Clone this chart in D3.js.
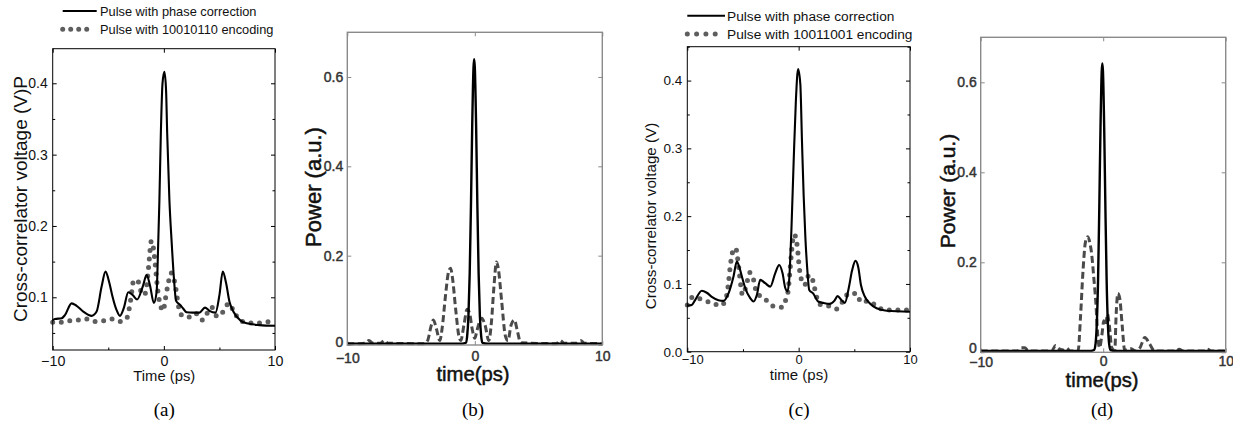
<!DOCTYPE html>
<html>
<head>
<meta charset="utf-8">
<script src="https://cdn.jsdelivr.net/npm/d3@7"></script>
<style>
body { margin: 0; background: #fff; }
svg { display: block; }
</style>
</head>
<body>
<svg id="svg"></svg>
<script>
var width = 1233, height = 428;
var svg = d3.select("#svg")
	.attr("width", width)
	.attr("height", height);

// shared time axis
var timeTicks = [-10, 0, 10];
var timeMinor = [-5, 5];

// tick values of the voltage / power axes
var voltTicksA = [0.1, 0.2, 0.3, 0.4];
var voltMinorA = [0.05, 0.15, 0.25, 0.35];
var voltTicksC = [0, 0.1, 0.2, 0.3, 0.4];
var voltMinorC = [0.05, 0.15, 0.25, 0.35, 0.45];
var powerTicks = [0, 0.2, 0.4, 0.6];

var legendA = ["Pulse with phase correction", "Pulse with 10010110 encoding"];
var legendC = ["Pulse with phase correction", "Pulse with 10011001 encoding"];

// (a) measured cross-correlation, [time ps, voltage V]
var aCorrected = [[-10,0.068],[-9.8,0.0696],[-9.2,0.0705],[-8.9,0.075],[-8.3,0.0915],[-7.85,0.088],[-7.25,0.08],[-6.5,0.074],[-6.05,0.08],[-5.6,0.115],[-5.25,0.136],[-4.9,0.12],[-4.65,0.103],[-4.25,0.082],[-3.95,0.074],[-3.6,0.085],[-3.2,0.107],[-2.8,0.103],[-2.4,0.097],[-1.9,0.115],[-1.55,0.131],[-1.25,0.117],[-0.9,0.092],[-0.65,0.108],[-0.5,0.18],[-0.4,0.236],[-0.27,0.33],[-0.12,0.4],[0.05,0.416],[0.2,0.39],[0.3,0.33],[0.5,0.236],[0.7,0.178],[0.9,0.128],[1.1,0.095],[1.45,0.0895],[1.75,0.084],[2.05,0.079],[2.6,0.0785],[3.2,0.0785],[3.7,0.0855],[4.1,0.081],[4.65,0.0785],[5.0,0.103],[5.3,0.136],[5.6,0.12],[5.9,0.094],[6.25,0.08],[6.85,0.068],[7.45,0.0635],[8.6,0.061],[10,0.06]];
var aEncoded = [[-10,0.065],[-9.2,0.065],[-8.45,0.067],[-7.7,0.068],[-6.95,0.0696],[-6.2,0.066],[-5.45,0.067],[-4.65,0.0696],[-3.9,0.066],[-3.3,0.072],[-3.0,0.095],[-2.7,0.124],[-2.35,0.123],[-2.0,0.106],[-1.75,0.103],[-1.55,0.116],[-1.37,0.143],[-1.12,0.179],[-0.95,0.17],[-0.8,0.15],[-0.65,0.125],[-0.5,0.104],[-0.33,0.09],[-0.05,0.081],[0.1,0.094],[0.4,0.12],[0.65,0.134],[0.85,0.129],[1.1,0.11],[1.3,0.089],[1.6,0.075],[2.2,0.072],[2.85,0.0776],[3.45,0.068],[4.3,0.086],[4.8,0.073],[5.35,0.08],[5.85,0.0916],[6.3,0.08],[6.9,0.067],[7.7,0.0644],[8.4,0.0635],[9.2,0.0658],[10,0.0658]];

// (b) simulated power, [time ps, a.u.]
var bCorrected = [[-10,0.003],[-5,0.003],[-1,0.003],[-0.7,0.005],[-0.6,0.02],[-0.5,0.064],[-0.4,0.16],[-0.3,0.315],[-0.2,0.496],[-0.1,0.622],[-0.05,0.64],[0,0.622],[0.1,0.496],[0.2,0.315],[0.3,0.16],[0.4,0.064],[0.5,0.02],[0.6,0.005],[1,0.003],[5,0.003],[10,0.003]];
var bEncoded = [[-10,0.003],[-9,0.003],[-8.6,0.004],[-8.3,0.01],[-8.0,0.004],[-7.4,0.004],[-7.1,0.01],[-6.8,0.004],[-4,0.003],[-3.7,0.01],[-3.45,0.04],[-3.25,0.056],[-3.0,0.035],[-2.75,0.01],[-2.55,0.04],[-2.3,0.11],[-2.05,0.165],[-1.9,0.172],[-1.75,0.15],[-1.5,0.08],[-1.25,0.02],[-1.1,0.01],[-0.85,0.045],[-0.6,0.08],[-0.4,0.07],[-0.2,0.035],[0.0,0.015],[0.15,0.03],[0.35,0.05],[0.55,0.06],[0.8,0.045],[1.1,0.01],[1.3,0.05],[1.5,0.13],[1.7,0.186],[1.85,0.17],[2.1,0.1],[2.4,0.02],[2.6,0.01],[2.85,0.045],[3.1,0.056],[3.35,0.03],[3.6,0.005],[6.4,0.003],[6.7,0.01],[7.0,0.004],[8.0,0.004],[8.3,0.01],[8.6,0.004],[10,0.003]];

// (c) measured cross-correlation, [time ps, voltage V]
var cCorrected = [[-10,0.068],[-9.6,0.069],[-9.3,0.076],[-8.7,0.09],[-8.25,0.087],[-7.8,0.081],[-7.2,0.076],[-6.75,0.075],[-6.3,0.086],[-5.85,0.111],[-5.55,0.133],[-5.35,0.126],[-5.1,0.111],[-4.8,0.094],[-4.35,0.079],[-4.05,0.074],[-3.75,0.084],[-3.45,0.106],[-3.0,0.101],[-2.55,0.096],[-2.1,0.116],[-1.75,0.128],[-1.45,0.116],[-1.2,0.094],[-1.0,0.089],[-0.85,0.106],[-0.65,0.18],[-0.45,0.28],[-0.25,0.37],[-0.05,0.417],[0.15,0.395],[0.3,0.31],[0.45,0.23],[0.6,0.17],[0.8,0.116],[0.95,0.091],[1.3,0.086],[1.75,0.074],[2.2,0.072],[2.8,0.0705],[3.2,0.075],[3.5,0.082],[3.85,0.076],[4.15,0.072],[4.5,0.094],[4.8,0.12],[5.1,0.134],[5.35,0.125],[5.6,0.098],[5.95,0.081],[6.4,0.071],[7.0,0.064],[7.9,0.0605],[10,0.059]];
var cEncoded = [[-10,0.069],[-9.45,0.081],[-8.7,0.077],[-7.8,0.072],[-7.0,0.068],[-6.55,0.077],[-6.35,0.095],[-6.15,0.125],[-5.95,0.146],[-5.65,0.153],[-5.5,0.14],[-5.35,0.12],[-5.2,0.098],[-5.05,0.084],[-4.85,0.09],[-4.6,0.105],[-4.4,0.117],[-4.2,0.113],[-3.95,0.1],[-3.8,0.087],[-3.1,0.079],[-2.35,0.0675],[-1.5,0.0655],[-1.15,0.077],[-0.95,0.089],[-0.8,0.115],[-0.65,0.145],[-0.5,0.168],[-0.4,0.173],[-0.25,0.168],[-0.1,0.152],[0.05,0.125],[0.2,0.11],[0.4,0.099],[0.65,0.1],[0.9,0.113],[1.15,0.111],[1.4,0.096],[1.6,0.082],[1.85,0.07],[2.65,0.0675],[3.4,0.063],[4.0,0.075],[4.5,0.086],[5.2,0.086],[5.6,0.073],[6.3,0.075],[7.1,0.0655],[8,0.0615],[10,0.0615]];

// (d) simulated power, [time ps, a.u.]
var dCorrected = [[-10,0.003],[-5,0.003],[-1,0.003],[-0.75,0.005],[-0.62,0.02],[-0.52,0.065],[-0.42,0.16],[-0.32,0.32],[-0.22,0.5],[-0.12,0.625],[-0.07,0.642],[-0.02,0.625],[0.08,0.5],[0.18,0.32],[0.28,0.16],[0.38,0.065],[0.48,0.02],[0.6,0.005],[1,0.003],[5,0.003],[10,0.003]];
var dEncoded = [[-10,0.003],[-7,0.003],[-6.7,0.01],[-6.4,0.01],[-6.1,0.003],[-4.2,0.003],[-3.9,0.015],[-3.6,0.008],[-3.2,0.005],[-3.0,0.01],[-2.7,0.003],[-2.05,0.003],[-1.85,0.08],[-1.65,0.18],[-1.45,0.245],[-1.25,0.257],[-1.1,0.245],[-0.95,0.22],[-0.75,0.16],[-0.6,0.11],[-0.45,0.04],[-0.3,0.01],[-0.1,0.04],[0.05,0.07],[0.2,0.06],[0.35,0.085],[0.5,0.06],[0.7,0.01],[0.95,0.005],[1.05,0.08],[1.2,0.131],[1.35,0.12],[1.55,0.06],[1.75,0.005],[2.3,0.008],[2.6,0.003],[3.0,0.01],[3.4,0.033],[3.8,0.018],[4.2,0.003],[6.0,0.003],[6.2,0.007],[6.5,0.003],[8.3,0.003],[8.5,0.007],[8.8,0.003],[10,0.003]];

var sans = "'Liberation Sans', Arial, sans-serif";
var serif = "'Liberation Serif', 'Times New Roman', serif";

function styleLine(path, kind)
{
	if (kind == "solid")
		path.attr("stroke", "#000").attr("stroke-width", 2.1);
	else if (kind == "solid2")
		path.attr("stroke", "#000").attr("stroke-width", 2.4);
	else if (kind == "dot")
		path.attr("stroke", "#5e5e5e").attr("stroke-width", 5)
			.attr("stroke-dasharray", "0,8.6").attr("stroke-linecap", "round");
	else if (kind == "dash")
		path.attr("stroke", "#4a4a4a").attr("stroke-width", 3)
			.attr("stroke-dasharray", "7,3.5");
}

function panel(o)
{
	var x = d3.scaleLinear().domain([-10, 10]).range(o.xRange);
	var y = d3.scaleLinear().domain(o.yDomain).range(o.yRange);
	var g = svg.append("g");

	function tidy(sel, size, color)
	{
		sel.select(".domain").remove();
		sel.attr("font-family", sans).attr("font-size", size);
		sel.selectAll("line").attr("stroke", o.frame).attr("stroke-width", 1);
		sel.selectAll("text").attr("fill", color);
		if (o.heavy)
			sel.selectAll("text").attr("stroke", color).attr("stroke-width", 0.45);
	}

	// minor ticks first
	g.append("g").attr("transform", "translate(" + o.xRange[0] + ",0)")
		.call(d3.axisLeft(y).tickValues(o.yMinor).tickFormat("").tickSize(-2.5))
		.call(tidy, 10, o.tickColor);
	g.append("g").attr("transform", "translate(" + o.xRange[1] + ",0)")
		.call(d3.axisRight(y).tickValues(o.yMinor).tickFormat("").tickSize(-2.5))
		.call(tidy, 10, o.tickColor);
	g.append("g").attr("transform", "translate(0," + o.yRange[0] + ")")
		.call(d3.axisBottom(x).tickValues(o.xMinor).tickFormat("").tickSize(-2.5))
		.call(tidy, 10, o.tickColor);

	var yAxis = g.append("g").attr("transform", "translate(" + o.xRange[0] + ",0)")
		.call(d3.axisLeft(y).tickValues(o.yTicks).tickFormat(o.yFormat).tickSize(-4).tickPadding(o.yPad))
		.call(tidy, o.yTickSize, o.tickColor);
	g.append("g").attr("transform", "translate(" + o.xRange[1] + ",0)")
		.call(d3.axisRight(y).tickValues(o.yTicks).tickFormat("").tickSize(-4))
		.call(tidy, 10, o.tickColor);
	var xAxis = g.append("g").attr("transform", "translate(0," + o.yRange[0] + ")")
		.call(d3.axisBottom(x).tickValues(timeTicks).tickFormat(d3.format("d")).tickSize(-4).tickPadding(o.xPad))
		.call(tidy, o.xTickSize, o.tickColor);
	g.append("g").attr("transform", "translate(0," + o.yRange[1] + ")")
		.call(d3.axisTop(x).tickValues(timeTicks).tickFormat("").tickSize(-4))
		.call(tidy, 10, o.tickColor);

	// the corner labels sit apart from each other, as in the original
	yAxis.selectAll(".tick text").filter(function(d) { return d === 0; })
		.attr("y", -(o.zeroLift || 0));
	xAxis.selectAll(".tick text").filter(function(d) { return d === -10; })
		.attr("dx", o.firstShift || 0)
		.attr("y", o.xPad + (o.firstDrop || 0));

	var line = d3.line()
		.x(function(d) { return x(d[0]); })
		.y(function(d) { return y(d[1]); })
		.curve(d3.curveMonotoneX);

	o.series.forEach(function(s)
	{
		var p = g.append("path")
			.attr("fill", "none")
			.attr("stroke-linejoin", "round")
			.attr("d", line(s.data));
		styleLine(p, s.kind);
	});

	g.append("rect")
		.attr("x", o.xRange[0])
		.attr("y", o.yRange[1])
		.attr("width", o.xRange[1] - o.xRange[0])
		.attr("height", o.yRange[0] - o.yRange[1])
		.attr("fill", "none")
		.attr("stroke", o.frame)
		.attr("stroke-width", o.frameWidth);

	var yl = g.append("text")
		.attr("transform", "translate(" + o.yLabel.x + "," + o.yLabel.y + ") rotate(-90)")
		.attr("text-anchor", "middle")
		.attr("font-family", sans)
		.attr("font-size", o.yLabel.size)
		.attr("fill", "#111")
		.text(o.yLabel.text);

	var xl = g.append("text")
		.attr("x", o.xLabel.x)
		.attr("y", o.xLabel.y)
		.attr("text-anchor", "middle")
		.attr("font-family", sans)
		.attr("font-size", o.xLabel.size)
		.attr("fill", "#111")
		.text(o.xLabel.text);

	if (o.heavy)
	{
		yl.attr("stroke", "#111").attr("stroke-width", 0.5);
		xl.attr("stroke", "#111").attr("stroke-width", 0.5);
	}

	g.append("text")
		.attr("x", o.xLabel.x)
		.attr("y", 416)
		.attr("text-anchor", "middle")
		.attr("font-family", serif)
		.attr("font-size", 19)
		.attr("fill", "#000")
		.text(o.tag);

	if (o.legend)
	{
		var L = o.legend;
		g.append("line")
			.attr("x1", L.x1).attr("x2", L.x2)
			.attr("y1", L.y1).attr("y2", L.y1)
			.attr("stroke", "#000").attr("stroke-width", 2);
		var dots = g.append("path")
			.attr("fill", "none")
			.attr("d", "M" + L.x1 + "," + L.y2 + "H" + L.dotEnd);
		styleLine(dots, "dot");
		dots.attr("stroke-dasharray", "0," + L.dotGap);
		g.selectAll(null)
			.data(L.labels)
			.enter()
			.append("text")
			.attr("x", L.textX)
			.attr("y", function(d, i) { return i == 0 ? L.y1 + L.size * 0.36 : L.y2 + L.size * 0.36; })
			.attr("font-family", sans)
			.attr("font-size", L.size)
			.attr("fill", "#111")
			.text(function(d) { return d; });
	}
}

var powerFormat = function(d) { return d == 0 ? "0" : d3.format(".1f")(d); };

panel({
	xRange: [52.7, 275], yRange: [350, 48.7], yDomain: [0.0261, 0.4485],
	yTicks: voltTicksA, yMinor: voltMinorA, xMinor: timeMinor, yFormat: d3.format(".1f"),
	frame: "#000", frameWidth: 1, tickColor: "#111",
	yTickSize: 14, xTickSize: 14.3, yPad: 5, xPad: 5.5,
	series: [{ data: aEncoded, kind: "dot" }, { data: aCorrected, kind: "solid" }],
	yLabel: { text: "Cross-correlator voltage (V)P", x: 27, y: 199, size: 19 },
	xLabel: { text: "Time (ps)", x: 164.3, y: 381, size: 14.8 },
	tag: "(a)",
	legend: { x1: 62.7, x2: 96.7, y1: 11, y2: 29.3, dotEnd: 88, dotGap: 8, textX: 100, size: 12.8, labels: legendA }
});

panel({
	xRange: [347.3, 602.3], yRange: [345, 32.3], yDomain: [0, 0.7],
	yTicks: powerTicks, yMinor: [], xMinor: [], yFormat: powerFormat,
	frame: "#8a8a8a", frameWidth: 1.4, tickColor: "#333", heavy: true,
	yTickSize: 14, xTickSize: 14, yPad: 4, xPad: 6, zeroLift: 3, firstDrop: 2,
	series: [{ data: bEncoded, kind: "dash" }, { data: bCorrected, kind: "solid2" }],
	yLabel: { text: "Power (a.u.)", x: 321, y: 187, size: 22 },
	xLabel: { text: "time(ps)", x: 473, y: 381, size: 20.3 },
	tag: "(b)"
});

panel({
	xRange: [687.3, 910], yRange: [351.7, 46.7], yDomain: [0, 0.45],
	yTicks: voltTicksC, yMinor: voltMinorC, xMinor: timeMinor, yFormat: d3.format(".1f"),
	frame: "#000", frameWidth: 1, tickColor: "#111",
	yTickSize: 13.5, xTickSize: 13, yPad: 5, xPad: 3.5, firstShift: 5,
	series: [{ data: cEncoded, kind: "dot" }, { data: cCorrected, kind: "solid" }],
	yLabel: { text: "Cross-correlator voltage (V)", x: 656, y: 216, size: 15.2 },
	xLabel: { text: "time (ps)", x: 799, y: 380, size: 15 },
	tag: "(c)",
	legend: { x1: 687.3, x2: 725, y1: 15.7, y2: 34, dotEnd: 716, dotGap: 9.3, textX: 727, size: 13.7, labels: legendC }
});

panel({
	xRange: [980.7, 1225.7], yRange: [352.3, 37.3], yDomain: [0, 0.7],
	yTicks: powerTicks, yMinor: [], xMinor: [], yFormat: powerFormat,
	frame: "#8a8a8a", frameWidth: 1.4, tickColor: "#333", heavy: true,
	yTickSize: 14, xTickSize: 14, yPad: 4, xPad: 4, zeroLift: 4, firstDrop: 1,
	series: [{ data: dEncoded, kind: "dash" }, { data: dCorrected, kind: "solid2" }],
	yLabel: { text: "Power (a.u.)", x: 955, y: 191, size: 21 },
	xLabel: { text: "time(ps)", x: 1102, y: 387, size: 20.2 },
	tag: "(d)"
});
</script>
</body>
</html>
